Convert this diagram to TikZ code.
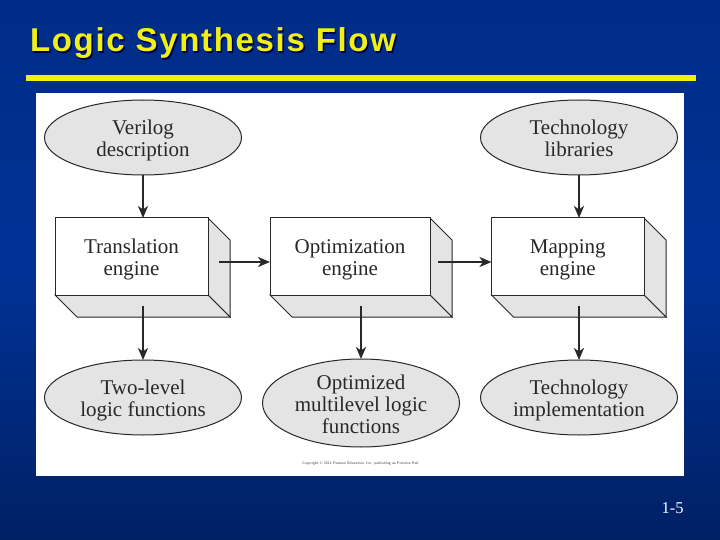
\documentclass[tikz,border=0pt]{standalone}
\usepackage{fontspec}
\setmainfont{Liberation Serif}
\newfontfamily\headfont[LetterSpace=5.1]{Liberation Sans}
\usetikzlibrary{arrows.meta,shapes.geometric}
\definecolor{bgtop}{RGB}{0,44,135}
\definecolor{bgmid}{RGB}{0,50,150}
\definecolor{bgbot}{RGB}{0,32,100}
\definecolor{rulecol}{RGB}{240,240,20}
\definecolor{facegray}{RGB}{228,228,228}
\definecolor{inkcol}{RGB}{40,40,40}
\newcommand{\topgap}{\rule{0pt}{20pt}}
\newcommand{\lowgap}{\rule[-4.6pt]{0pt}{4.6pt}}
\tikzset{
  x=1pt,y=-1pt,
  every node/.style={inner sep=0pt,outer sep=0pt,align=center,text=inkcol,font=\fontsize{21}{22}\selectfont},
  oval/.style={ellipse,draw=inkcol,line width=1pt,fill=facegray,minimum width=197pt,minimum height=75pt},
  frontbox/.style={rectangle,draw=inkcol,line width=1pt,fill=white,minimum height=77pt},
  sideface/.style={draw=inkcol,line width=1pt,fill=facegray,line join=miter},
  flow/.style={draw=inkcol,line width=2pt,-{Stealth[length=12pt,width=10pt,inset=3.5pt]}},
  headline/.style={anchor=base west,font=\headfont\bfseries\fontsize{33}{36}\selectfont}
}
\begin{document}
\begin{tikzpicture}
\useasboundingbox (0,0) rectangle (720,540);
\path[shade,top color=bgtop,bottom color=bgbot,middle color=bgmid] (0,0) rectangle (720,540);
% title
\node[headline,text=black!70!blue] (titleshadow) at (31.5,53.5) {Logic Synthesis Flow};
\node[headline,text=rulecol] (title) at (30,52) {Logic Synthesis Flow};
\fill[rulecol] (26,75) rectangle (696,81);
% panel
\fill[white] (36,93) rectangle (684,476);
% ellipses
\node[oval] (verilog) at (143,137.5) {\topgap Verilog\\description\lowgap};
\node[oval] (techlib) at (579,137.5) {\topgap Technology\\libraries\lowgap};
\node[oval] (twolevel) at (143,397.5) {\topgap Two-level\\logic functions\lowgap};
\node[oval,minimum height=88pt,label={[yshift=-1pt]center:{\topgap Optimized\\multilevel logic\\functions\lowgap}}] (optimized) at (361,403) {};
\node[oval] (techimpl) at (579,397.5) {\topgap Technology\\implementation\lowgap};
% boxes
\path[sideface] (208,218) -- (230,240) -- (230,317) -- (208,295) -- cycle;
\path[sideface] (55,295) -- (77,317) -- (230,317) -- (208,295) -- cycle;
\path[sideface] (430,218) -- (452,240) -- (452,317) -- (430,295) -- cycle;
\path[sideface] (270,295) -- (292,317) -- (452,317) -- (430,295) -- cycle;
\path[sideface] (644,218) -- (666,240) -- (666,317) -- (644,295) -- cycle;
\path[sideface] (491.5,295) -- (513.5,317) -- (666,317) -- (644,295) -- cycle;
\node[frontbox,minimum width=153pt] (translation) at (131.5,256.5) {\topgap Translation\\engine\lowgap};
\node[frontbox,minimum width=160pt] (optimization) at (350,256.5) {\topgap Optimization\\engine\lowgap};
\node[frontbox,minimum width=152.5pt] (mapping) at (567.75,256.5) {\topgap Mapping\\engine\lowgap};
% connector ends on the box faces
\coordinate (transright) at (219,262);
\coordinate (optright) at (438,262);
\coordinate (transdown) at (143,306);
\coordinate (optdown) at (361,306);
\coordinate (mapdown) at (579,306);
% connectors
\draw[flow] (verilog.south) -- (verilog.south |- translation.north);
\draw[flow] (techlib.south) -- (techlib.south |- mapping.north);
\draw[flow] (transright) -- (transright -| optimization.west);
\draw[flow] (optright) -- (optright -| mapping.west);
\draw[flow] (transdown) -- (twolevel.north);
\draw[flow] (optdown) -- (optimized.north);
\draw[flow] (mapdown) -- (techimpl.north);
% small print
\node[font=\fontsize{3.75}{5}\selectfont\sffamily,text=black!75] (copyright) at (360.5,464) {Copyright © 2011 Pearson Education, Inc. publishing as Prentice Hall};
% page number
\node[anchor=base,text=white,font=\fontsize{16.5}{18}\selectfont] (pagenum) at (672.5,513) {1-5};
\end{tikzpicture}
\end{document}
